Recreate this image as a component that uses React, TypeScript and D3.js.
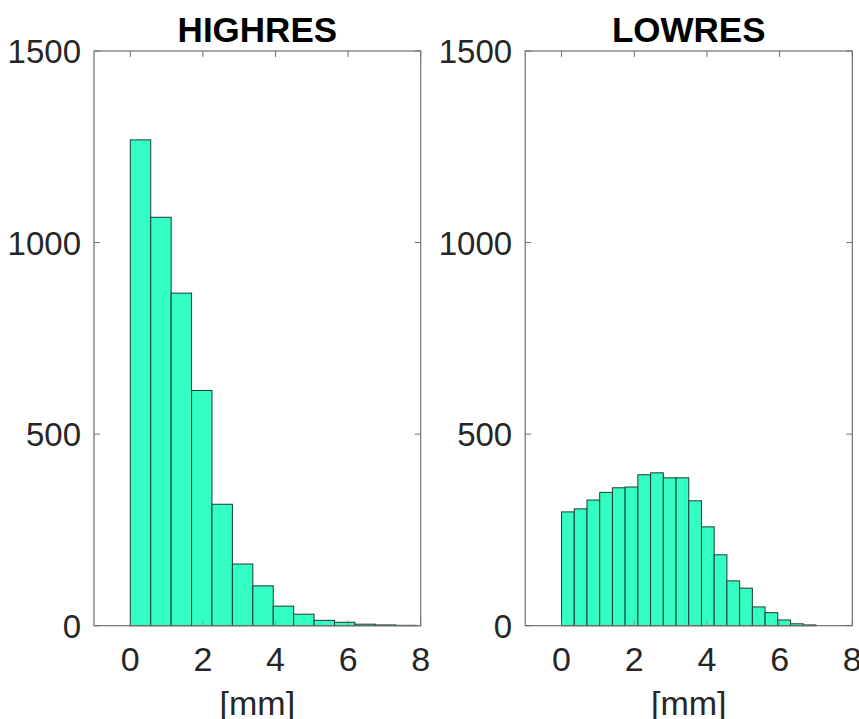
import React from "react";
import * as d3 from "d3";

const hiCounts = [1268, 1066, 868, 614, 317, 161, 104, 51, 30, 14, 9, 4, 2, 1];
const hiBinWidth = 0.5625;
const loCounts = [297, 305, 328, 348, 360, 362, 394, 399, 386, 386, 326, 258, 185, 117, 98, 49, 34, 15, 5, 2];
const loBinWidth = 0.35;
const xTicks = [0, 2, 4, 6, 8];
const yTicks = [0, 500, 1000, 1500];
const titles = ["HIGHRES", "LOWRES"];
const xLabel = "[mm]";

const W = 859, H = 719;
const top = 51, bottom = 625.7;
const panels = [
  { left: 94, right: 420.7, counts: hiCounts, bw: hiBinWidth, title: titles[0] },
  { left: 525.2, right: 852.3, counts: loCounts, bw: loBinWidth, title: titles[1] },
];

const font = "'Liberation Sans', Arial, Helvetica, sans-serif";
const axisColor = "#707070";
const textColor = "#262626";

function Panel({ p }: { p: typeof panels[0] }) {
  const x = d3.scaleLinear().domain([-1, 8]).range([p.left, p.right]);
  const y = d3.scaleLinear().domain([0, 1500]).range([bottom, top]);
  const tl = 6;
  return (
    <g>
      {p.counts.map((c, i) => (
        <rect
          key={i}
          x={x(i * p.bw)}
          y={y(c)}
          width={x((i + 1) * p.bw) - x(i * p.bw)}
          height={bottom - y(c)}
          fill="#33FFC4"
          stroke="#1d3b33"
          strokeWidth={1}
        />
      ))}
      <rect x={p.left} y={top} width={p.right - p.left} height={bottom - top} fill="none" stroke={axisColor} strokeWidth={1.2} />
      {xTicks.map((t) => (
        <g key={"x" + t}>
          <line x1={x(t)} x2={x(t)} y1={top} y2={top + tl} stroke={axisColor} strokeWidth={1} />
          <line x1={x(t)} x2={x(t)} y1={bottom} y2={bottom - tl} stroke={axisColor} strokeWidth={1} opacity={0.5} />
          <text x={x(t)} y={671} textAnchor="middle" fontSize={34} fontFamily={font} fill={textColor}>
            {t}
          </text>
        </g>
      ))}
      {yTicks.map((t) => (
        <g key={"y" + t}>
          <line x1={p.left} x2={p.left + tl} y1={y(t)} y2={y(t)} stroke={axisColor} strokeWidth={1} />
          <line x1={p.right} x2={p.right - tl} y1={y(t)} y2={y(t)} stroke={axisColor} strokeWidth={1} />
          <text x={p.left - 13} y={y(t) + 12} textAnchor="end" fontSize={33} fontFamily={font} fill={textColor}>
            {t}
          </text>
        </g>
      ))}
      <text x={(p.left + p.right) / 2} y={42} textAnchor="middle" fontSize={35} fontWeight="bold" fontFamily={font} fill="#000">
        {p.title}
      </text>
      <text x={(p.left + p.right) / 2} y={715} textAnchor="middle" fontSize={34} fontFamily={font} fill={textColor}>
        {xLabel}
      </text>
    </g>
  );
}

export default function App() {
  return (
    <svg width={W} height={H} style={{ position: "absolute", left: 0, top: 0, background: "#fff" }}>
      <rect width={W} height={H} fill="#fff" />
      {panels.map((p, i) => (
        <Panel key={i} p={p} />
      ))}
    </svg>
  );
}
